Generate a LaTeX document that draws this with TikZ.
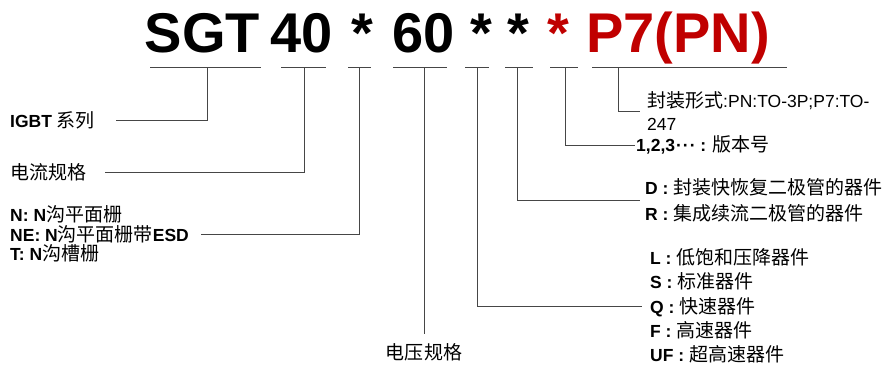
\documentclass[tikz,border=0pt]{standalone}
\usepackage{fontspec}
\setmainfont{Liberation Sans}
\newfontfamily\cjk[Scale=1.086]{Noto Sans CJK SC}
\newcommand{\cn}[1]{{\cjk #1}}
\usepackage{tikz}
\usetikzlibrary{positioning}
\definecolor{codered}{RGB}{192,0,0}
\definecolor{linegray}{RGB}{70,70,70}

\begin{document}
\begin{tikzpicture}
[x=1pt, y=-1pt,
% STYLES
every node/.style={inner sep=0pt},
% The code style is used to draw the pieces of the part number
code/.style={anchor=base, font=\fontsize{56}{60}\selectfont\bfseries},
% The desc style is used to explain what each piece means
desc/.style={anchor=west, align=left, font=\fontsize{17.5}{20}\selectfont},
% The link style joins a piece to its explanation
link/.style={draw=linegray, line width=0.8pt}]

\useasboundingbox (0,0) rectangle (887,367);

% Draw part number
\node [code] (series) at (202.5,52) {SGT};
\node [code] (current) at (302,52) {40};
\node [code] (gate) at (362,52) {*};
\node [code] (voltage) at (423.5,52) {60};
\node [code] (speed) at (481,52) {*};
\node [code] (diode) at (518.5,52) {*};
\node [code, text=codered] (version) at (558.5,52) {*};
\node [code, text=codered] (package) at (678,52) {P7(PN)};

% underlines, with the point where each link starts
\draw [link] (150,67) -- (261,67) (207,67) coordinate (tick-series);
\draw [link] (281,67) -- (326,67) (304,67) coordinate (tick-current);
\draw [link] (348,67) -- (371,67) (359,67) coordinate (tick-gate);
\draw [link] (393,67) -- (447,67) (424,67) coordinate (tick-voltage);
\draw [link] (465,67) -- (489,67) (477,67) coordinate (tick-speed);
\draw [link] (505,67) -- (533,67) (517,67) coordinate (tick-diode);
\draw [link] (550,67) -- (578,67) (565,67) coordinate (tick-version);
\draw [link] (592,67) -- (787,67) (618,67) coordinate (tick-package);

%%%%%%%%%%%%%%%
% Explanations

% left side
\node [desc] (desc-series) at (10,120) {\textbf{IGBT} \cn{系列}};
\node [desc] (desc-current) at (10,172) {\cn{电流规格}};
\node [desc, font=\fontsize{17.5}{19.5}\selectfont] (desc-gate) at (10,234)
  {\textbf{N: N}\cn{沟平面栅}\\
   \textbf{NE: N}\cn{沟平面栅带}\textbf{ESD}\\
   \textbf{T: N}\cn{沟槽栅}};

% bottom
\node [desc, anchor=center] (desc-voltage) at (424,352) {\cn{电压规格}};

% right side
\node [desc, font=\fontsize{17.5}{22.5}\selectfont] (desc-package) at (647,111)
  {\cn{封装形式}:PN:TO-3P;P7:TO-\\247};
\node [desc] (desc-version) at (636,145) {\textbf{1,2,3\kern1pt·\kern1pt·\kern1pt· :} \cn{版本号}};
\node [desc, font=\fontsize{17.5}{26}\selectfont] (desc-diode) at (645,200)
  {\textbf{D :} \cn{封装快恢复二极管的器件}\\
   \textbf{R :} \cn{集成续流二极管的器件}};
\node [desc, font=\fontsize{17.5}{24.25}\selectfont] (desc-speed) at (650,306)
  {\textbf{L :} \cn{低饱和压降器件}\\
   \textbf{S :} \cn{标准器件}\\
   \textbf{Q :} \cn{快速器件}\\
   \textbf{F :} \cn{高速器件}\\
   \textbf{UF :} \cn{超高速器件}};

%%%%%%%%%%%%%%%

% Draw the links between pieces and explanations
\draw [link, shorten >=21pt] (tick-series) |- (desc-series.east);
\draw [link, shorten >=19pt] (tick-current) |- (desc-current.east);
\draw [link, shorten >=12pt] (tick-gate) |- (desc-gate.east);
\draw [link, shorten >=9pt] (tick-voltage) -- (desc-voltage.north);
\draw [link, shorten >=8pt] (tick-speed) |- (desc-speed.west);
\draw [link, shorten >=5pt] (tick-diode) |- (desc-diode.west);
\draw [link, shorten >=1pt] (tick-version) |- (desc-version.west);
\draw [link, shorten >=7pt] (tick-package) |- (desc-package.west);

\end{tikzpicture}
\end{document}
